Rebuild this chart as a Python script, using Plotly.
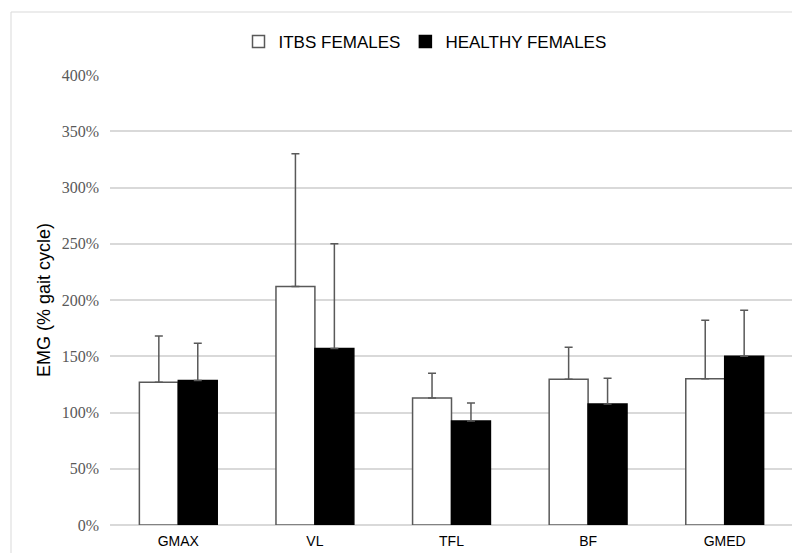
import plotly.graph_objects as go

categories = ["GMAX", "VL", "TFL", "BF", "GMED"]
itbs_values = [127, 212, 113, 129.5, 130]
itbs_err = [41, 118, 22, 28.5, 52]
healthy_values = [128.5, 157, 92.5, 107.5, 150]
healthy_err = [33, 93, 16, 23, 41]
y_ticks = [0, 50, 100, 150, 200, 250, 300, 350, 400]
y_tick_labels = ["0%", "50%", "100%", "150%", "200%", "250%", "300%", "350%", "400%"]

fig = go.Figure()
fig.add_trace(go.Bar(
    name="ITBS FEMALES", x=categories, y=itbs_values,
    marker=dict(color="white", line=dict(color="#595959", width=1.5)),
    error_y=dict(type="data", array=itbs_err, symmetric=False,
                 arrayminus=[0] * len(itbs_err),
                 color="#595959", thickness=1.5, width=4),
))
fig.add_trace(go.Bar(
    name="HEALTHY FEMALES", x=categories, y=healthy_values,
    marker=dict(color="black", line=dict(color="black", width=1.5)),
    error_y=dict(type="data", array=healthy_err, symmetric=False,
                 arrayminus=[0] * len(healthy_err),
                 color="#595959", thickness=1.5, width=4),
))

L, T, R, B = 102, 67, 15, 36
PW, PH = 800 - L - R, 553 - T - B

fig.update_layout(
    width=800, height=553,
    margin=dict(l=L, r=R, t=T, b=B, autoexpand=False),
    paper_bgcolor="white", plot_bgcolor="white",
    barmode="group", bargap=0.43, bargroupgap=0,
    showlegend=True,
    legend=dict(orientation="h", x=(425 - 110) / PW, xanchor="center",
                y=1 + (T - 34) / PH, yanchor="middle",
                font=dict(family="Liberation Sans, Arial, sans-serif", size=17, color="black"),
                itemwidth=30, traceorder="normal", tracegroupgap=0),
    xaxis=dict(showgrid=False, showline=False, zeroline=False, ticks="",
               ticklabelstandoff=6,
               tickfont=dict(family="Liberation Sans, Arial, sans-serif", size=14, color="black")),
    yaxis=dict(range=[0, 400], tickvals=y_ticks, ticktext=y_tick_labels,
               showgrid=True, gridcolor="#d9d9d9", gridwidth=1.5,
               zeroline=True, zerolinecolor="#d9d9d9", zerolinewidth=1.5,
               showline=False, ticks="", ticklen=0, ticklabelstandoff=10,
               tickfont=dict(family="Liberation Serif, Times New Roman, serif", size=16, color="#595959"),
               title=dict(text="EMG (% gait cycle)", standoff=6,
                          font=dict(family="Liberation Sans, Arial, sans-serif", size=18, color="black"))),
    shapes=[dict(type="rect", xref="paper", yref="paper",
                 x0=(11 - 8 - L) / PW, x1=1.05, y0=-0.2, y1=1 + (T - 4) / PH,
                 line=dict(color="#d9d9d9", width=1), layer="below")],
)

fig.write_html("out.html")
